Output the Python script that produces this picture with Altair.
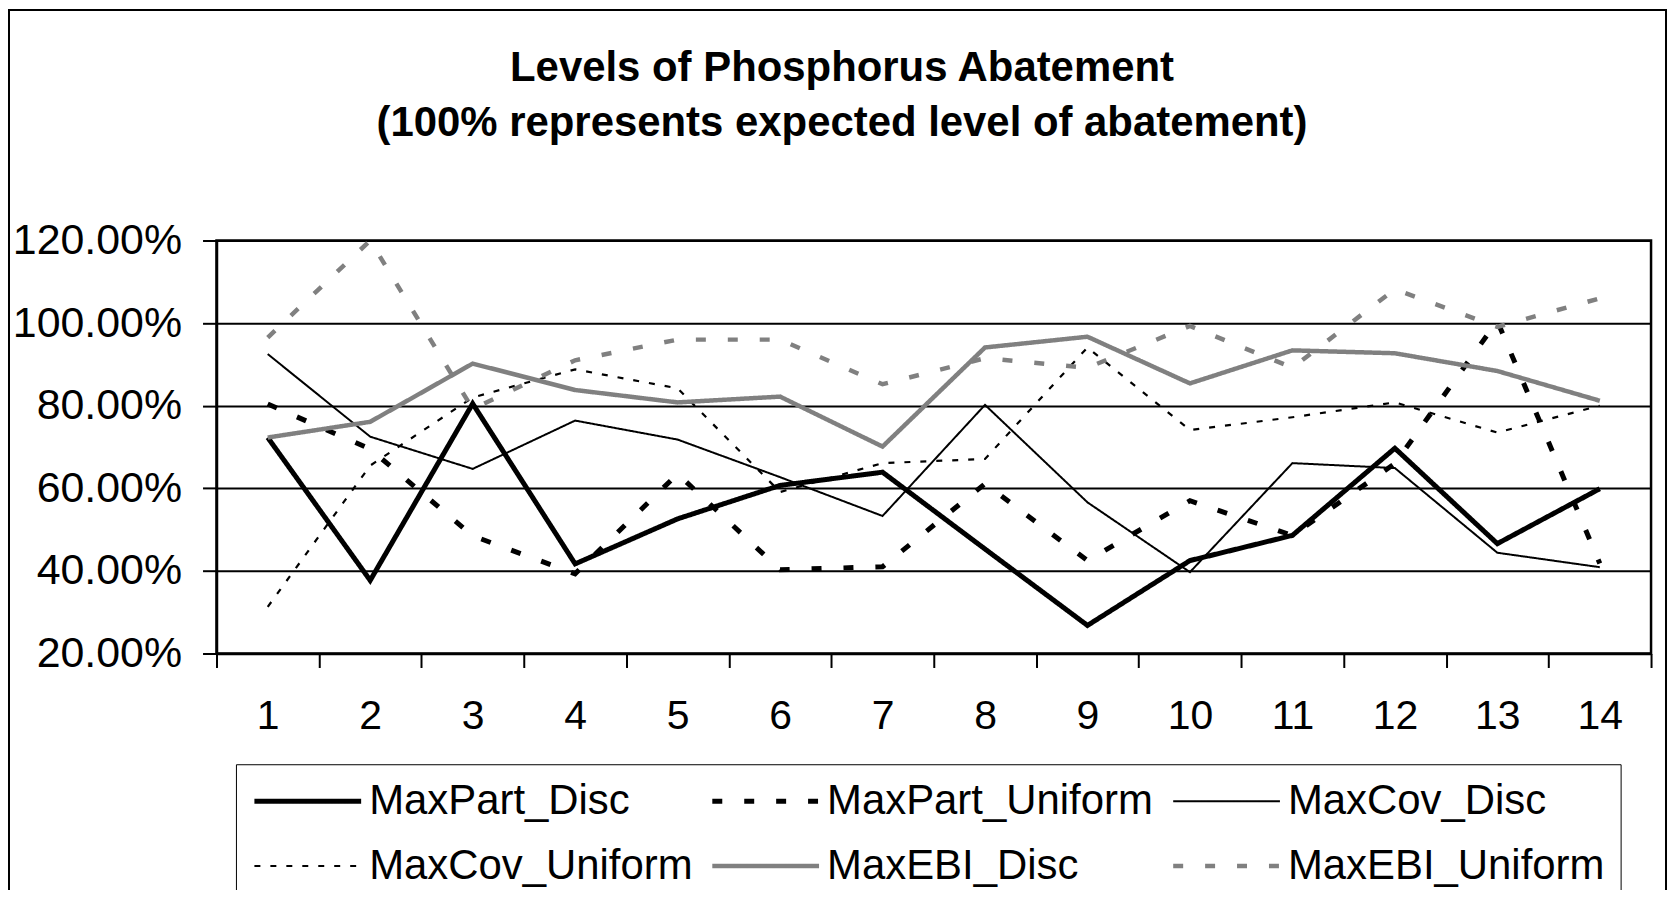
import altair as alt
import pandas as pd

# ---------------- data ----------------
categories = [str(i) for i in range(1, 15)]
series_names = ["MaxPart_Disc", "MaxPart_Uniform", "MaxCov_Disc",
                "MaxCov_Uniform", "MaxEBI_Disc", "MaxEBI_Uniform"]

maxpart_disc = [72.3, 37.7, 80.5, 41.7, 52.6, 60.7, 63.9, 45.3, 26.8, 42.5, 48.6, 69.7, 46.6, 59.9]
maxpart_uniform = [80.4, 69.5, 48.5, 39.3, 63.5, 40.3, 41.0, 61.1, 42.5, 57.0, 48.6, 66.0, 100.5, 41.8]
maxcov_disc = [92.5, 72.5, 64.7, 76.4, 71.8, 62.7, 53.3, 80.2, 56.6, 39.7, 66.1, 64.9, 44.4, 40.9]
maxcov_uniform = [31.3, 65.5, 82.0, 88.8, 84.2, 59.1, 66.1, 67.1, 94.1, 74.1, 77.2, 80.8, 73.5, 80.0]
maxebi_disc = [72.3, 76.1, 90.2, 83.8, 80.8, 82.2, 70.1, 94.1, 96.7, 85.4, 93.4, 92.7, 88.4, 81.2]
maxebi_uniform = [96.5, 120.0, 79.2, 91.0, 96.0, 96.0, 85.2, 91.5, 89.2, 99.3, 89.2, 108.2, 99.1, 106.0]

y_ticks = [20, 40, 60, 80, 100, 120]

# ---------------- styles ----------------
series_colors = ["black", "black", "black", "black", "#808080", "#808080"]
series_dashes = [[1, 0], [10, 22], [1, 0], [6, 10], [1, 0], [10, 22]]
series_widths = [5, 5, 2, 2.2, 4.5, 4.5]

all_values = [maxpart_disc, maxpart_uniform, maxcov_disc,
              maxcov_uniform, maxebi_disc, maxebi_uniform]
rows = []
for name, vals in zip(series_names, all_values):
    for c, v in zip(categories, vals):
        rows.append({"case": c, "series": name, "value": v})
df = pd.DataFrame(rows)

FONT = "Liberation Sans"

lines = alt.Chart(df).mark_line().encode(
    x=alt.X(
        "case:O", sort=categories,
        scale=alt.Scale(type="band", paddingInner=0, paddingOuter=0),
        axis=alt.Axis(title=None, labelAngle=0, tickBand="extent", grid=False,
                      domainColor="black", domainWidth=2.5, tickColor="black",
                      tickWidth=2, tickSize=14, labelFontSize=41, labelFont=FONT,
                      labelColor="black", labelPadding=29),
    ),
    y=alt.Y(
        "value:Q",
        scale=alt.Scale(domain=[20, 120], nice=False, zero=False),
        axis=alt.Axis(title=None, values=y_ticks,
                      labelExpr="format(datum.value, '.2f') + '%'",
                      grid=True, gridColor="black", gridWidth=2,
                      domainColor="black", domainWidth=2.5, tickColor="black",
                      tickWidth=2, tickSize=14, labelFontSize=43, labelFont=FONT,
                      labelColor="black", labelPadding=21),
    ),
    color=alt.Color(
        "series:N", sort=series_names,
        scale=alt.Scale(domain=series_names, range=series_colors),
        legend=alt.Legend(title=None, orient="none", legendX=19.5, legendY=525,
                          direction="horizontal", columns=3, symbolType="stroke",
                          symbolSize=11449, clipHeight=42, rowPadding=23,
                          columnPadding=17, labelOffset=5.5, labelFontSize=42,
                          labelFont=FONT, labelColor="black", labelLimit=600,
                          padding=16, strokeColor="black", fillColor="white"),
    ),
    strokeDash=alt.StrokeDash(
        "series:N", sort=series_names,
        scale=alt.Scale(domain=series_names, range=series_dashes),
        legend=alt.Legend(title=None),
    ),
    strokeWidth=alt.StrokeWidth(
        "series:N", sort=series_names,
        scale=alt.Scale(type="ordinal", domain=series_names, range=series_widths),
        legend=alt.Legend(title=None),
    ),
)

frame = alt.Chart(pd.DataFrame({"k": [0]})).mark_rect(
    fill="transparent", stroke="black", strokeWidth=2
).encode(
    x=alt.value(-208), x2=alt.value(1453), y=alt.value(-231), y2=alt.value(700)
)

chart = alt.layer(frame, lines).properties(
    width=1438,
    height=414,
    padding={"left": 209, "top": 232, "right": 18, "bottom": 236},
    autosize=alt.AutoSizeParams(type="none"),
    title=alt.TitleParams(
        text=["Levels of Phosphorus Abatement",
              "(100% represents expected level of abatement)"],
        fontSize=42, font=FONT, fontWeight="bold", color="black",
        anchor="middle", frame="group", orient="top", baseline="bottom",
        offset=0, dx=-92, dy=178, lineHeight=55,
    ),
).configure(font=FONT).configure_view(stroke="black", strokeWidth=2.5)

chart.save("out.html", embed_options={"renderer": "svg", "actions": False})
